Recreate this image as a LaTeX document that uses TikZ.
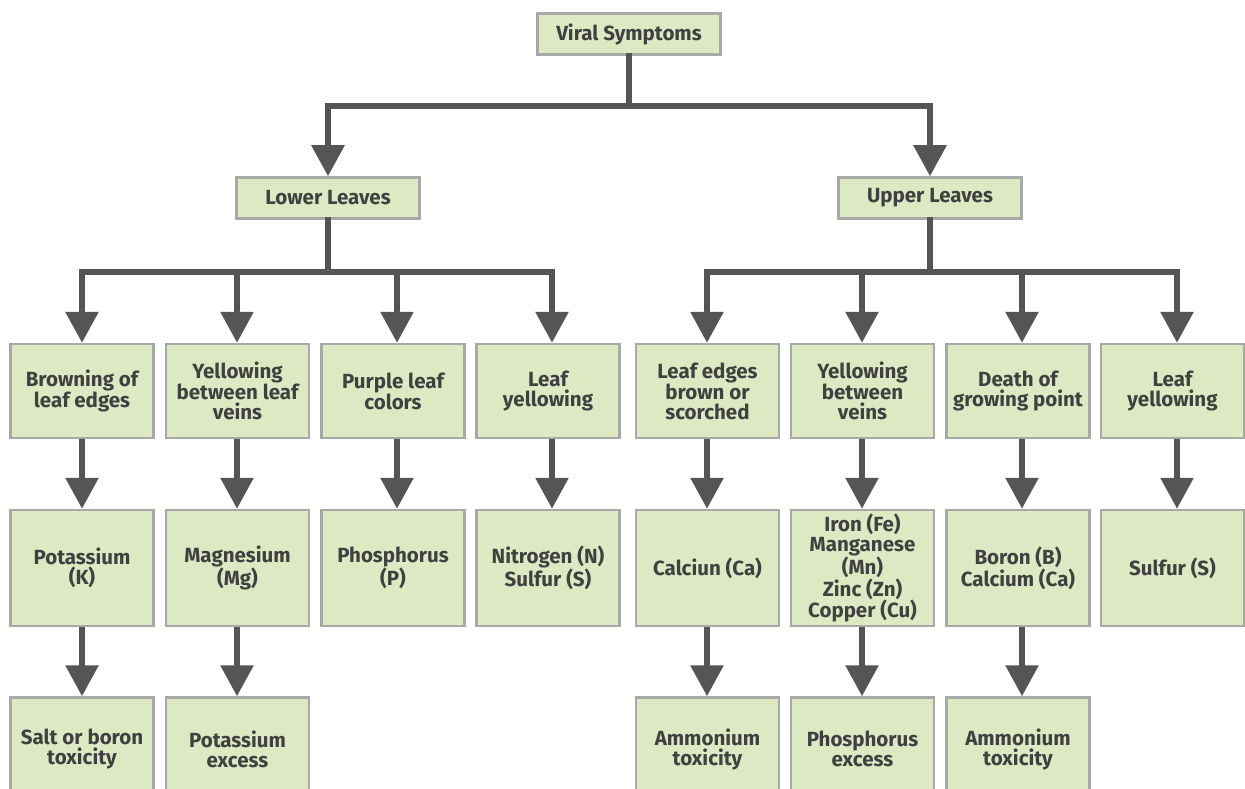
\documentclass[tikz,border=0pt]{standalone}
\usepackage{fontspec}
\setmainfont{Fira Sans}
\usetikzlibrary{arrows.meta}
\definecolor{boxfill}{HTML}{DCE9C3}
\definecolor{boxline}{HTML}{A8A8A8}
\definecolor{arrowc}{HTML}{555558}
\definecolor{txt}{HTML}{404040}
\begin{document}
\begin{tikzpicture}[x=1pt,y=-1pt,
  box/.style={draw=boxline, line width=2.5pt, fill=boxfill, text=txt,
    font=\fontsize{20.5}{20}\selectfont\bfseries, align=center, inner sep=0pt,
    minimum width=143pt},
  head/.style={box, minimum width=183pt, minimum height=41pt},
  rowa/.style={box, minimum height=94pt},
  rowb/.style={box, minimum height=116pt},
  rowc/.style={box, minimum height=103pt},
  arr/.style={draw=arrowc, line width=6pt, -{Triangle[width=32pt,length=31pt]}},
  bus/.style={draw=arrowc, line width=6pt, line cap=rect}]
\useasboundingbox (0,0) rectangle (1245,789);

% column positions of the connectors
\coordinate (x1) at (82,0);
\coordinate (x2) at (237,0);
\coordinate (x3) at (397,0);
\coordinate (x4) at (552,0);
\coordinate (x5) at (707,0);
\coordinate (x6) at (862,0);
\coordinate (x7) at (1022,0);
\coordinate (x8) at (1177,0);
\coordinate (bus0) at (0,106);
\coordinate (bus1) at (0,272);

% nodes
\node[head] (top) at (629,34) {Viral Symptoms};
\node[head] (low) at (328,198) {Lower Leaves};
\node[head] (up) at (930,198) {Upper Leaves};

\node[rowa] (a1) at (82,391) {Browning of\\leaf edges};
\node[rowa] (a2) at (237.5,391) {Yellowing\\between leaf\\veins};
\node[rowa] (a3) at (393,391) {Purple leaf\\colors};
\node[rowa] (a4) at (548,391) {Leaf\\yellowing};
\node[rowa] (a5) at (707.5,391) {Leaf edges\\brown or\\scorched};
\node[rowa] (a6) at (862.5,391) {Yellowing\\between\\veins};
\node[rowa] (a7) at (1018,391) {Death of\\growing point};
\node[rowa] (a8) at (1172.5,391) {Leaf\\yellowing};

\node[rowb] (b1) at (82,568) {Potassium\\(K)};
\node[rowb] (b2) at (237.5,568) {Magnesium\\(Mg)};
\node[rowb] (b3) at (393,568) {Phosphorus\\(P)};
\node[rowb] (b4) at (548,568) {Nitrogen (N)\\Sulfur (S)};
\node[rowb] (b5) at (707.5,568) {Calciun (Ca)};
\node[rowb] (b6) at (862.5,568) {Iron (Fe)\\Manganese\\(Mn)\\Zinc (Zn)\\Copper (Cu)};
\node[rowb] (b7) at (1018,568) {Boron (B)\\Calcium (Ca)};
\node[rowb] (b8) at (1172.5,568) {Sulfur (S)};

\node[rowc] (c1) at (82,749) {Salt or boron\\toxicity};
\node[rowc] (c2) at (237.5,749) {Potassium\\excess};
\node[rowc] (c5) at (707.5,749) {Ammonium\\toxicity};
\node[rowc] (c6) at (862.5,749) {Phosphorus\\excess};
\node[rowc] (c7) at (1018,749) {Ammonium\\toxicity};

% level 1
\draw[bus] (top.south) -- (top.south |- bus0);
\draw[bus] (low.north |- bus0) -- (up.north |- bus0);
\draw[arr] (low.north |- bus0) -- (low.north);
\draw[arr] (up.north |- bus0) -- (up.north);

% level 2, lower leaves
\draw[bus] (low.south) -- (low.south |- bus1);
\draw[bus] (x1 |- bus1) -- (x4 |- bus1);
\draw[arr] (x1 |- bus1) -- (a1.north -| x1);
\draw[arr] (x2 |- bus1) -- (a2.north -| x2);
\draw[arr] (x3 |- bus1) -- (a3.north -| x3);
\draw[arr] (x4 |- bus1) -- (a4.north -| x4);

% level 2, upper leaves
\draw[bus] (up.south) -- (up.south |- bus1);
\draw[bus] (x5 |- bus1) -- (x8 |- bus1);
\draw[arr] (x5 |- bus1) -- (a5.north -| x5);
\draw[arr] (x6 |- bus1) -- (a6.north -| x6);
\draw[arr] (x7 |- bus1) -- (a7.north -| x7);
\draw[arr] (x8 |- bus1) -- (a8.north -| x8);

% row a -> row b
\draw[arr] (a1.south -| x1) -- (b1.north -| x1);
\draw[arr] (a2.south -| x2) -- (b2.north -| x2);
\draw[arr] (a3.south -| x3) -- (b3.north -| x3);
\draw[arr] (a4.south -| x4) -- (b4.north -| x4);
\draw[arr] (a5.south -| x5) -- (b5.north -| x5);
\draw[arr] (a6.south -| x6) -- (b6.north -| x6);
\draw[arr] (a7.south -| x7) -- (b7.north -| x7);
\draw[arr] (a8.south -| x8) -- (b8.north -| x8);

% row b -> row c
\draw[arr] (b1.south -| x1) -- (c1.north -| x1);
\draw[arr] (b2.south -| x2) -- (c2.north -| x2);
\draw[arr] (b5.south -| x5) -- (c5.north -| x5);
\draw[arr] (b6.south -| x6) -- (c6.north -| x6);
\draw[arr] (b7.south -| x7) -- (c7.north -| x7);
\end{tikzpicture}
\end{document}
